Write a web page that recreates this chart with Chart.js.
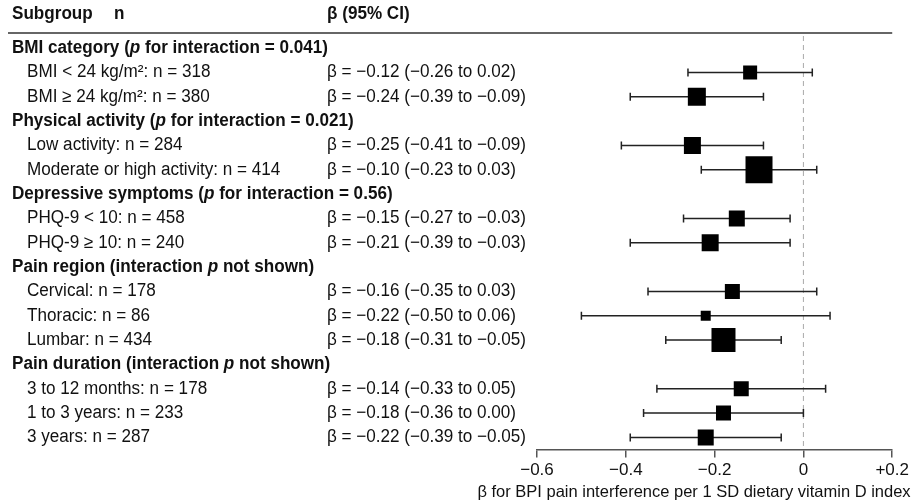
<!DOCTYPE html>
<html>
<head>
<meta charset="utf-8">
<script src="https://cdn.jsdelivr.net/npm/chart.js@4.4.1/dist/chart.umd.min.js"></script>
<style>
  html, body { margin: 0; padding: 0; background: #fff; }
  #wrap { width: 912px; height: 501px; }
</style>
</head>
<body>
<div id="wrap"><canvas id="myChart" width="912" height="501"></canvas></div>
<script>
// group headers, the p is marked with _ so it can go italic
const groupTitles = [
  'BMI category (_p_ for interaction = 0.041)',
  'Physical activity (_p_ for interaction = 0.021)',
  'Depressive symptoms (_p_ for interaction = 0.56)',
  'Pain region (interaction _p_ not shown)',
  'Pain duration (interaction _p_ not shown)'
]
const subgroups = [
  'BMI < 24 kg/m²', 'BMI ≥ 24 kg/m²',
  'Low activity', 'Moderate or high activity',
  'PHQ-9 < 10', 'PHQ-9 ≥ 10',
  'Cervical', 'Thoracic', 'Lumbar',
  '3 to 12 months', '1 to 3 years', '3 years'
]
const groupOf = [0, 0, 1, 1, 2, 2, 3, 3, 3, 4, 4, 4]
const nValues = [318, 380, 284, 414, 458, 240, 178, 86, 434, 178, 233, 287]
const estimates = [-0.12, -0.24, -0.25, -0.10, -0.15, -0.21, -0.16, -0.22, -0.18, -0.14, -0.18, -0.22]
const lower = [-0.26, -0.39, -0.41, -0.23, -0.27, -0.39, -0.35, -0.50, -0.31, -0.33, -0.36, -0.39]
const upper = [0.02, -0.09, -0.09, 0.03, -0.03, -0.03, 0.03, 0.06, -0.05, 0.05, 0.00, -0.05]
// relative box weight
const boxWeight = [14, 18, 17, 27, 16, 17, 15, 10, 24, 15, 15, 16]
const xTicks = [-0.6, -0.4, -0.2, 0, 0.2]
const xTitle = 'β for BPI pain interference per 1 SD dietary vitamin D index'

const FONT = "'Liberation Sans', Arial, sans-serif"
const SQUEEZE = 0.95
const fmt = v => (v < 0 ? '−' : '') + Math.abs(v).toFixed(2)

// build the row list: header rows then their subgroups
var rows = []
groupTitles.forEach((g, gi) => {
  rows.push({ type: 'head', text: g })
  subgroups.forEach((s, i) => {
    if (groupOf[i] === gi) rows.push({ type: 'row', i: i })
  })
})
const rowLabels = rows.map((r, k) => r.type === 'head' ? 'h' + k : subgroups[r.i])

const points = subgroups.map((s, i) => ({ x: estimates[i], y: s }))

// slightly narrow text, like the original typeface
function narrowText(ctx, s, x, y) {
  ctx.save()
  ctx.translate(x, y)
  ctx.scale(SQUEEZE, 1)
  ctx.fillText(s, 0, 0)
  ctx.restore()
  return ctx.measureText(s).width * SQUEEZE
}

function richText(ctx, text, x, y, weight) {
  var parts = text.split('_')
  parts.forEach((p, k) => {
    ctx.font = (k % 2 ? 'italic ' : '') + weight + ' 18px ' + FONT
    x += narrowText(ctx, p, x, y)
  })
}

const forestPlugin = {
  id: 'forest',
  beforeDatasetsDraw(chart) {
    const ctx = chart.ctx
    const xs = chart.scales.x, ys = chart.scales.y
    const area = chart.chartArea
    ctx.save()
    // zero line
    ctx.strokeStyle = '#aaa'
    ctx.lineWidth = 1
    ctx.setLineDash([5, 4])
    ctx.beginPath()
    ctx.moveTo(xs.getPixelForValue(0), 36)
    ctx.lineTo(xs.getPixelForValue(0), area.bottom)
    ctx.stroke()
    ctx.setLineDash([])
    // CI whiskers
    ctx.strokeStyle = '#222'
    ctx.lineWidth = 1.5
    subgroups.forEach((s, i) => {
      var y = ys.getPixelForValue(rowLabels.indexOf(s))
      var x1 = xs.getPixelForValue(lower[i]), x2 = xs.getPixelForValue(upper[i])
      ctx.beginPath()
      ctx.moveTo(x1, y); ctx.lineTo(x2, y)
      ctx.moveTo(x1, y - 4); ctx.lineTo(x1, y + 4)
      ctx.moveTo(x2, y - 4); ctx.lineTo(x2, y + 4)
      ctx.stroke()
    })
    ctx.restore()
  },
  afterDraw(chart) {
    const ctx = chart.ctx
    const xs = chart.scales.x, ys = chart.scales.y
    ctx.save()
    ctx.fillStyle = '#111'
    ctx.textBaseline = 'middle'
    // column header
    ctx.font = 'bold 18px ' + FONT
    narrowText(ctx, 'Subgroup', 12, 14)
    narrowText(ctx, 'n', 114, 14)
    narrowText(ctx, 'β (95% CI)', 327, 14)
    ctx.strokeStyle = '#666'
    ctx.lineWidth = 2
    ctx.beginPath()
    ctx.moveTo(8, 33); ctx.lineTo(xs.right, 33)
    ctx.stroke()
    rows.forEach((r, k) => {
      var y = ys.getPixelForValue(k)
      if (r.type === 'head') {
        richText(ctx, r.text, 12, y, 'bold')
      } else {
        ctx.font = '18px ' + FONT
        narrowText(ctx, subgroups[r.i] + ': n = ' + nValues[r.i], 27, y)
        narrowText(ctx, 'β = ' + fmt(estimates[r.i]) + ' (' + fmt(lower[r.i]) + ' to ' + fmt(upper[r.i]) + ')', 327, y)
      }
    })
    // axis title
    ctx.font = '16.5px ' + FONT
    ctx.textAlign = 'center'
    ctx.fillText(xTitle, 694, 492)
    ctx.restore()
  }
}

const ctx = document.getElementById('myChart').getContext('2d')
const chart = new Chart(ctx, {
  type: 'scatter',
  data: {
    labels: rowLabels,
    datasets: [{
      label: 'beta',
      data: points,
      pointStyle: 'rect',
      pointRadius: boxWeight.map(w => w / Math.SQRT2),
      pointHoverRadius: boxWeight.map(w => w / Math.SQRT2),
      backgroundColor: '#000',
      borderColor: '#000',
      borderWidth: 0
    }]
  },
  options: {
    responsive: false,
    animation: false,
    events: [],
    layout: { padding: { left: 537, right: 19, top: 36, bottom: 17 } },
    plugins: { legend: { display: false }, tooltip: { enabled: false } },
    scales: {
      y: {
        type: 'category',
        labels: rowLabels,
        offset: true,
        display: false
      },
      x: {
        type: 'linear',
        min: -0.6,
        max: 0.2,
        afterBuildTicks: axis => { axis.ticks = xTicks.map(v => ({ value: v })) },
        grid: { drawOnChartArea: false, drawTicks: true, tickLength: 8, color: '#555', lineWidth: 1.5 },
        border: { display: true, color: '#555', width: 1.5 },
        ticks: {
          color: '#111',
          font: { family: FONT, size: 17 },
          padding: 3,
          maxRotation: 0,
          callback: v => v === 0 ? '0' : (v > 0 ? '+' : '−') + Math.abs(v).toFixed(1)
        }
      }
    }
  },
  plugins: [forestPlugin]
})
</script>
</body>
</html>
